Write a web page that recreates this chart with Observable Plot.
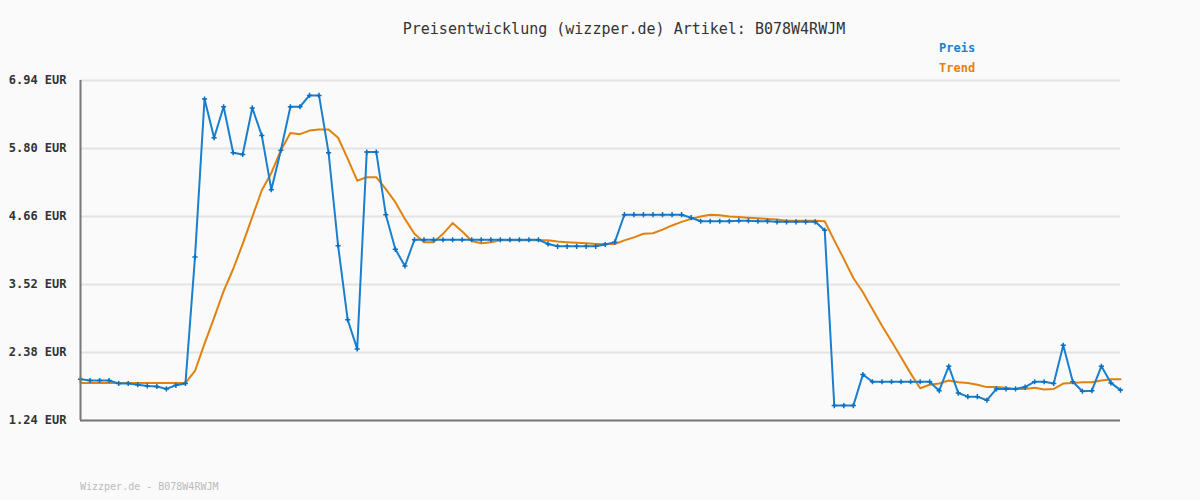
<!DOCTYPE html>
<html>
<head>
<meta charset="utf-8">
<script src="https://cdn.jsdelivr.net/npm/d3@7"></script>
<script src="https://cdn.jsdelivr.net/npm/@observablehq/plot@0.6"></script>
<style>
  html, body { margin: 0; padding: 0; background: #fafafa; }
  #wrap { position: relative; width: 1200px; height: 500px; background: #fafafa; font-family: "DejaVu Sans Mono", "Liberation Mono", monospace; }
  #title { position: absolute; left: 0; width: 1248px; top: 20px; text-align: center; font-size: 15px; color: #333; }
  .leg { position: absolute; left: 939px; font-size: 12px; font-weight: bold; }
  #footer { position: absolute; left: 80px; top: 481px; font-size: 10px; color: #bbb; }
  #chart { position: absolute; left: 0; top: 0; }
</style>
</head>
<body>
<div id="wrap">
  <div id="chart"></div>
  <div id="title">Preisentwicklung (wizzper.de) Artikel: B078W4RWJM</div>
  <div class="leg" style="top:41px;color:#1a7fcc">Preis</div>
  <div class="leg" style="top:61px;color:#e0820f">Trend</div>
  <div id="footer">Wizzper.de - B078W4RWJM</div>
</div>
<script>
const preis = [
  1.93, 1.91, 1.91, 1.91, 1.86, 1.86, 1.84, 1.82, 1.81, 1.77,
  1.83, 1.86, 3.98, 6.63, 5.98, 6.50, 5.73, 5.70, 6.48, 6.02,
  5.11, 5.77, 6.50, 6.50, 6.69, 6.69, 5.73, 4.17, 2.93, 2.44,
  5.74, 5.74, 4.69, 4.11, 3.83,
  4.27, 4.27, 4.27, 4.27, 4.27, 4.27, 4.27, 4.27, 4.27, 4.27, 4.27, 4.27, 4.27, 4.27,
  4.20, 4.16, 4.16, 4.16, 4.16, 4.16, 4.19, 4.23,
  4.69, 4.69, 4.69, 4.69, 4.69, 4.69, 4.69,
  4.64, 4.58, 4.58, 4.58, 4.58, 4.59, 4.59, 4.58, 4.58,
  4.57, 4.57, 4.57, 4.57, 4.57, 4.43,
  1.49, 1.49, 1.49, 2.01,
  1.89, 1.89, 1.89, 1.89, 1.89, 1.89, 1.89,
  1.74, 2.15, 1.70, 1.64, 1.64, 1.58, 1.77, 1.77, 1.77, 1.80,
  1.89, 1.89, 1.86, 2.50, 1.89, 1.73, 1.74, 2.15, 1.87, 1.75
];
const trend = [
  1.87, 1.87, 1.87, 1.87, 1.87, 1.87, 1.87, 1.87, 1.87, 1.87, 1.87, 1.87,
  2.07, 2.53, 2.96, 3.41, 3.78, 4.20, 4.65, 5.10, 5.39, 5.77,
  6.06, 6.04, 6.10, 6.12, 6.12, 5.98, 5.63, 5.26, 5.32, 5.32,
  5.12, 4.90, 4.62, 4.37, 4.23, 4.23, 4.37, 4.55, 4.41, 4.25,
  4.21, 4.23, 4.26, 4.26, 4.26, 4.26, 4.26, 4.26,
  4.24, 4.23, 4.22, 4.21, 4.20, 4.20, 4.20, 4.26, 4.31, 4.37,
  4.38, 4.44, 4.51, 4.57, 4.62, 4.66, 4.69, 4.68, 4.66, 4.65,
  4.64, 4.63, 4.62, 4.61, 4.59, 4.59, 4.59, 4.59, 4.58,
  4.26, 3.95, 3.63, 3.39, 3.11, 2.83, 2.57, 2.30, 2.03, 1.78,
  1.84, 1.86, 1.91, 1.88, 1.87, 1.84, 1.80, 1.80, 1.79, 1.77,
  1.77, 1.79, 1.76, 1.77, 1.86, 1.87, 1.88, 1.88, 1.91, 1.93, 1.93
];
const yTicks = [1.24, 2.38, 3.52, 4.66, 5.80, 6.94];

const pData = preis.map((v, i) => ({i, v}));
const tData = trend.map((v, i) => ({i, v}));

const chart = Plot.plot({
  width: 1200,
  height: 500,
  marginLeft: 80,
  marginRight: 80,
  marginTop: 80,
  marginBottom: 80,
  style: { background: "#fafafa", fontFamily: "DejaVu Sans Mono, monospace", fontSize: "12px", color: "#333" },
  x: { domain: [0, preis.length - 1], axis: null },
  y: { domain: [1.24, 6.94], ticks: yTicks, tickFormat: d => d.toFixed(2) + " EUR", tickSize: 0, tickPadding: 14, label: null, axis: null },
  marks: [
    Plot.ruleY(yTicks, { stroke: "#e3e3e3", strokeWidth: 2 }),
    Plot.line(tData, { x: "i", y: "v", stroke: "#e0820f", strokeWidth: 2 }),
    Plot.line(pData, { x: "i", y: "v", stroke: "#1a7fcc", strokeWidth: 2 }),
    Plot.dot(pData, { x: "i", y: "v", symbol: "plus", r: 1.8, stroke: "#0c6fbf", strokeWidth: 1.5 }),
    Plot.ruleX([0], { stroke: "#777", strokeWidth: 2 }),
    Plot.ruleY([1.24], { stroke: "#777", strokeWidth: 2 }),
    Plot.axisY({ ticks: yTicks, tickFormat: d => d.toFixed(2) + " EUR", tickSize: 0, tickPadding: 14, fontWeight: "bold", fill: "#333", label: null })
  ]
});
document.getElementById("chart").appendChild(chart);
</script>
</body>
</html>
